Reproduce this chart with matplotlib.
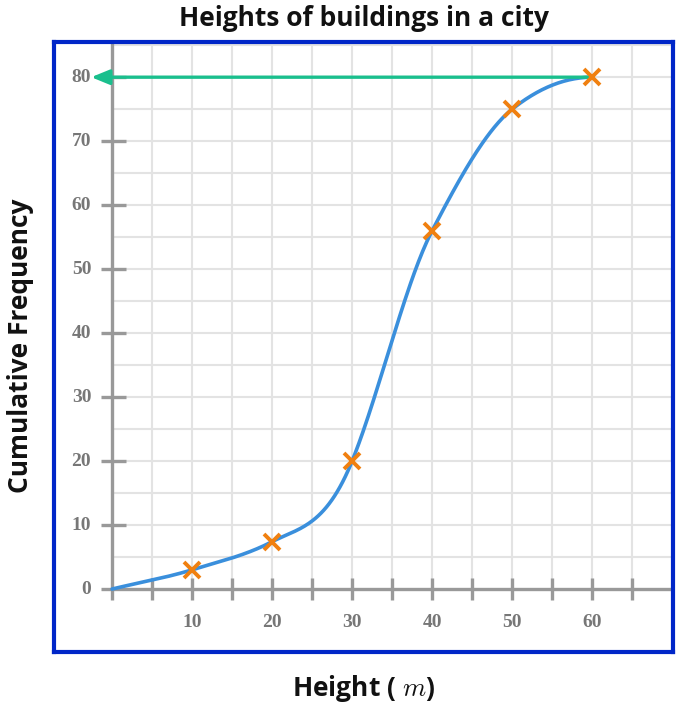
import numpy as np
import matplotlib
matplotlib.use("Agg")
from matplotlib import pyplot as plt

plt.rcParams["mathtext.fontset"] = "cm"

# data
heights = [0, 10, 20, 30, 40, 50, 60]
cum_freq = [0, 3, 7.4, 20, 56, 75, 80]
x_ticks = [10, 20, 30, 40, 50, 60]
y_ticks = [0, 10, 20, 30, 40, 50, 60, 70, 80]

blue = "#3a8fdc"
orange = "#f08010"
green = "#1abf8d"
frame = "#0026c8"
axis_grey = "#999999"
label_grey = "#777777"


def smooth_curve(xs, ys, n=60):
    # cubic hermite through the points, tangents picked by eye to follow the hand drawn curve
    xs = np.array(xs, float)
    ys = np.array(ys, float)
    m = np.array([0.3, 0.38, 0.65, 3.1, 2.4, 1.0, 0.0])
    out_x, out_y = [], []
    for i in range(len(xs) - 1):
        h = xs[i + 1] - xs[i]
        t = np.linspace(0, 1, n)
        h00 = 2 * t**3 - 3 * t**2 + 1
        h10 = t**3 - 2 * t**2 + t
        h01 = -2 * t**3 + 3 * t**2
        h11 = t**3 - t**2
        out_x.append(xs[i] + t * h)
        out_y.append(h00 * ys[i] + h10 * h * m[i] + h01 * ys[i + 1] + h11 * h * m[i + 1])
    return np.concatenate(out_x), np.concatenate(out_y)


fig = plt.figure(figsize=(6.76, 7.06), dpi=100)
ax = fig.add_axes([54 / 676, 54 / 706, 619 / 676, 610 / 706])
ax.set_xlim(-7.25, 70.1)
ax.set_ylim(-9.84, 85.5)

# grid only in the positive quadrant
for gx in np.arange(5, 70, 5):
    ax.plot([gx, gx], [0, 85.5], color="#e3e3e3", lw=1.5, zorder=1)
for gy in np.arange(5, 86, 5):
    ax.plot([0, 70.1], [gy, gy], color="#e3e3e3", lw=1.5, zorder=1)

# axes lines
ax.plot([-1.4, 70.1], [0, 0], color=axis_grey, lw=2.4, zorder=2, solid_capstyle="butt")
ax.plot([0, 0], [-1.7, 85.5], color=axis_grey, lw=2.4, zorder=2, solid_capstyle="butt")
for tx in np.arange(5, 70, 5):
    ax.plot([tx, tx], [-1.7, 1.7], color=axis_grey, lw=2.4, zorder=2, solid_capstyle="butt")
for ty in y_ticks[1:]:
    ax.plot([-1.4, 1.75], [ty, ty], color=axis_grey, lw=2.4, zorder=2, solid_capstyle="butt")

for tx in x_ticks:
    ax.text(tx, -5.2, str(tx), ha="center", va="center", fontsize=14,
            fontweight="bold", family="Liberation Serif", color=label_grey)
for ty in y_ticks:
    ax.text(-2.6, ty, str(ty), ha="right", va="center", fontsize=14,
            fontweight="bold", family="Liberation Serif", color=label_grey)

cx, cy = smooth_curve(heights, cum_freq)
ax.plot(cx, cy, color=blue, lw=2.6, zorder=3, solid_capstyle="round")

ax.annotate("", xy=(-2.6, cum_freq[-1]), xytext=(heights[-1], cum_freq[-1]),
            arrowprops=dict(arrowstyle="-|>,head_length=1.1,head_width=0.45",
                            color=green, lw=2.4, shrinkA=0, shrinkB=0), zorder=4)

ax.plot(heights[1:], cum_freq[1:], "x", color=orange, ms=11, mew=2.8, zorder=5)

ax.set_xticks([])
ax.set_yticks([])
for s in ax.spines.values():
    s.set_color(frame)
    s.set_linewidth(3)

fig.text(364 / 676, 1 - 18 / 706, "Heights of buildings in a city", ha="center", va="center",
         fontsize=19, fontweight="bold", family="Open Sans", color="#111111")
fig.text(21 / 676, 1 - 346 / 706, "Cumulative Frequency", ha="center", va="center", rotation=90,
         fontsize=19, fontweight="bold", family="Open Sans", color="#111111")
fig.text(364 / 676, 1 - 688 / 706, r"Height ( $m$)", ha="center", va="center",
         fontsize=19, fontweight="bold", family="Open Sans", color="#111111")

fig.savefig("out.png", dpi=100)
